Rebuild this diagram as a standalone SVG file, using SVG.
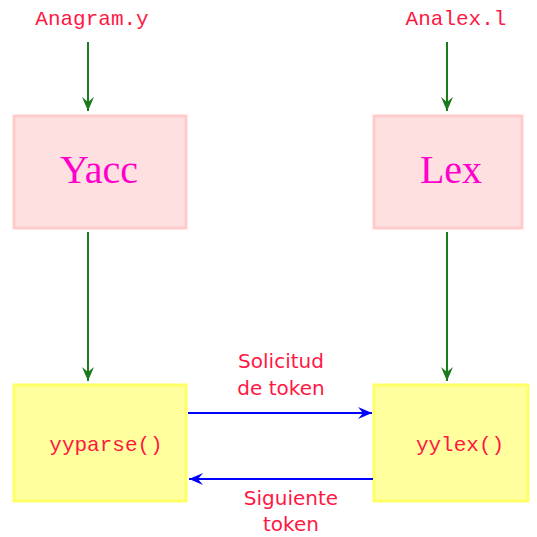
<svg xmlns="http://www.w3.org/2000/svg" width="537" height="537" viewBox="0 0 537 537">
<style>
.file{font-family:"Liberation Mono","Courier New",monospace;font-size:21px;fill:#ff1744;text-anchor:middle}
.tool{font-family:"Liberation Serif","Times New Roman",serif;font-size:40px;fill:#ff00cc;text-anchor:middle}
.lbl{font-family:"DejaVu Sans","Liberation Sans",sans-serif;font-size:20px;fill:#ff1744;text-anchor:middle}
.pink{fill:#ffe0e0;stroke:#ffcccc;stroke-width:3}
.yel{fill:#ffff9e;stroke:#ffff66;stroke-width:3}
.g{stroke:#1e7a1e;stroke-width:2;fill:none;marker-end:url(#ag)}
.b{stroke:#0000ff;stroke-width:2;fill:none;marker-end:url(#ab)}
</style>
<defs>
<marker id="ag" markerWidth="16" markerHeight="16" refX="14" refY="7" orient="auto" markerUnits="userSpaceOnUse">
<path d="M0,1 L14,7 L0,13 L5,7 Z" fill="#1e7a1e"/>
</marker>
<marker id="ab" markerWidth="16" markerHeight="16" refX="14" refY="7" orient="auto" markerUnits="userSpaceOnUse">
<path d="M0,1 L14,7 L0,13 L5,7 Z" fill="#0000ff"/>
</marker>
</defs>
<rect width="537" height="537" fill="#ffffff"/>
<g id="anagram"><text class="file" x="92" y="25">Anagram.y</text></g>
<g id="analex"><text class="file" x="456" y="25">Analex.l</text></g>
<g id="yacc"><rect class="pink" x="14" y="116" width="172" height="112"/><text class="tool" x="99" y="183">Yacc</text></g>
<g id="lex"><rect class="pink" x="374" y="116" width="148" height="112"/><text class="tool" x="451" y="183">Lex</text></g>
<g id="yyparse"><rect class="yel" x="14" y="385" width="172" height="116"/><text class="file" x="106" y="451">yyparse()</text></g>
<g id="yylex"><rect class="yel" x="374" y="385" width="154" height="116"/><text class="file" x="460" y="451">yylex()</text></g>
<g id="connectors">
<line class="g" x1="88" y1="42" x2="88" y2="111"/>
<line class="g" x1="447" y1="42" x2="447" y2="111"/>
<line class="g" x1="88" y1="232" x2="88" y2="381"/>
<line class="g" x1="447" y1="232" x2="447" y2="381"/>
<line class="b" x1="188" y1="413" x2="372" y2="413"/>
<line class="b" x1="373" y1="479" x2="189" y2="479"/>
</g>
<g id="labels">
<text class="lbl" x="281" y="368">Solicitud</text>
<text class="lbl" x="281" y="395">de token</text>
<text class="lbl" x="291" y="505">Siguiente</text>
<text class="lbl" x="291" y="531">token</text>
</g>
</svg>
